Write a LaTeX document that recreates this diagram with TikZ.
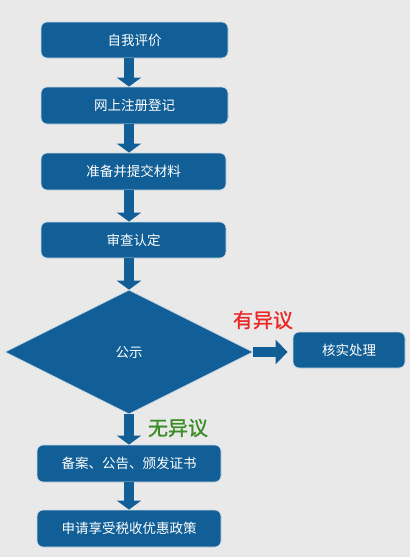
\documentclass[tikz,border=0pt]{standalone}
\usepackage{fontspec}
\setmainfont{Noto Sans CJK SC}
\newfontfamily\lblfont{Noto Sans CJK SC}[FakeBold=1.2]
\usetikzlibrary{shapes.geometric,arrows.meta}
\definecolor{boxblue}{RGB}{17,95,150}
\definecolor{bg}{RGB}{233,233,233}
\definecolor{edge}{RGB}{205,218,230}
\definecolor{redtxt}{RGB}{235,40,40}
\definecolor{greentxt}{RGB}{60,140,40}
\begin{document}
\begin{tikzpicture}[x=1pt,y=-1pt,
  stepbox/.style={draw=edge,line width=0.8pt,fill=boxblue,rounded corners=6pt,
    text=white,inner sep=0pt,font=\fontsize{13.5}{15}\selectfont},
  decision/.style={diamond,fill=boxblue,draw=edge,line width=0.6pt,inner sep=0pt,
    text=white,font=\fontsize{13.5}{15}\selectfont},
  fat/.style={draw=boxblue,line width=10pt,
    -{Triangle[width=24pt,length=9pt]}},
  lbl/.style={font=\fontsize{20}{22}\lblfont,inner sep=0pt}]
\fill[bg] (0,0) rectangle (410,557);
\useasboundingbox (0,0) rectangle (410,557);
\node[stepbox,minimum width=187pt,minimum height=36pt] (b1) at (134.5,40) {自我评价};
\node[stepbox,minimum width=187pt,minimum height=37pt] (b2) at (134.5,105.5) {网上注册登记};
\node[stepbox,minimum width=185pt,minimum height=37pt] (b3) at (133.5,171.5) {准备并提交材料};
\node[stepbox,minimum width=185pt,minimum height=36pt] (b4) at (133.5,240) {审查认定};
\node[decision,minimum width=248pt,minimum height=124pt] (d) at (129,352) {公示};
\node[stepbox,minimum width=112pt,minimum height=36pt] (b7) at (349,350) {核实处理};
\node[stepbox,minimum width=184pt,minimum height=37pt] (b5) at (129,463.5) {备案、公告、颁发证书};
\node[stepbox,minimum width=184pt,minimum height=37pt] (b6) at (129,528.5) {申请享受税收优惠政策};
\node[lbl,text=redtxt] (yes) at (263,320) {有异议};
\node[lbl,text=greentxt] (no) at (178,428) {无异议};
\draw[fat] (b1.south -| d.center) -- (b2.north -| d.center);
\draw[fat] (b2.south -| d.center) -- (b3.north -| d.center);
\draw[fat] (b3.south -| d.center) -- (b4.north -| d.center);
\draw[fat] (b4.south -| d.center) -- (d.north);
\draw[fat,-{Triangle[width=24pt,length=12pt]},shorten >=5pt] (d.east) -- (b7.west |- d.east);
\draw[fat] (d.south) -- (b5.north);
\draw[fat] (b5.south) -- (b6.north);
\end{tikzpicture}
\end{document}
